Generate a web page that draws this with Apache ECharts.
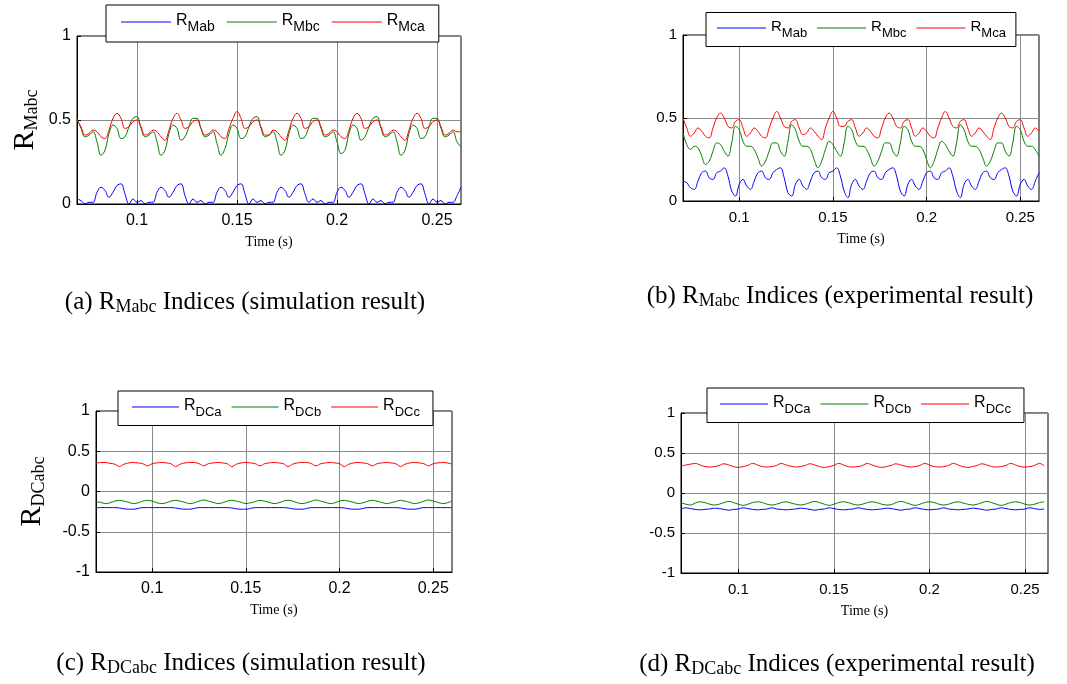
<!DOCTYPE html>
<html lang="en">
<head>
<meta charset="utf-8">
<script src="https://cdn.jsdelivr.net/npm/echarts@6/dist/echarts.min.js"></script>
<title>R indices</title>
<style>
    html, body { margin: 0; background: #fff; }
    #chart { width: 1067px; height: 684px; }
</style>
</head>
<body>
<div id="chart"></div>
<script>
    // sample grid: 0.07 s onward, 2 ms for the R_M panels, 2.5 ms for the R_DC panels
    const tStart = 0.07;
    const dtM = 0.002;
    const dtDC = 0.0025;

    const xTicks = [0.1, 0.15, 0.2, 0.25];

    // (a) simulation, R_M indices
    const redA = [
        0.50,0.46,0.41,0.42,0.44,0.43,0.40,0.39,0.44,0.51,
        0.54,0.51,0.45,0.46,0.49,0.50,0.46,0.41,0.42,0.44,0.43,0.40,0.38,0.44,0.51,
        0.54,0.50,0.45,0.46,0.49,0.50,0.45,0.41,0.42,0.44,0.43,0.40,0.39,0.45,0.51,
        0.55,0.51,0.45,0.46,0.49,0.50,0.46,0.41,0.41,0.44,0.43,0.40,0.38,0.44,0.51,
        0.54,0.51,0.45,0.46,0.49,0.50,0.46,0.41,0.42,0.44,0.43,0.40,0.39,0.44,0.51,
        0.54,0.51,0.45,0.46,0.49,0.50,0.46,0.41,0.42,0.44,0.43,0.40,0.38,0.44,0.51,
        0.54,0.51,0.45,0.46,0.49,0.50,0.46,0.41,0.42,0.44,0.43,0.43
    ];
    const greenA = [
        0.51,0.45,0.40,0.41,0.43,0.37,0.29,0.32,0.42,0.47,
        0.45,0.39,0.40,0.46,0.51,0.52,0.45,0.40,0.41,0.43,0.37,0.29,0.32,0.42,0.47,
        0.45,0.38,0.40,0.46,0.51,0.51,0.45,0.40,0.41,0.43,0.36,0.29,0.33,0.42,0.47,
        0.45,0.39,0.40,0.46,0.51,0.52,0.45,0.40,0.41,0.43,0.37,0.29,0.32,0.42,0.47,
        0.45,0.39,0.40,0.46,0.51,0.51,0.45,0.40,0.41,0.43,0.37,0.30,0.32,0.42,0.47,
        0.45,0.38,0.40,0.46,0.51,0.52,0.45,0.40,0.41,0.43,0.37,0.29,0.32,0.42,0.47,
        0.45,0.39,0.40,0.46,0.51,0.51,0.45,0.40,0.41,0.43,0.37,0.34
    ];
    const blueA = [
        0.03,0.02,0.00,0.01,0.01,0.07,0.10,0.08,0.04,0.07,
        0.11,0.12,0.06,0.00,0.03,0.01,0.02,0.00,0.01,0.01,0.07,0.10,0.08,0.04,0.07,
        0.11,0.12,0.05,0.00,0.03,0.01,0.02,0.00,0.01,0.01,0.07,0.10,0.08,0.04,0.07,
        0.11,0.12,0.06,0.00,0.03,0.01,0.02,0.00,0.01,0.01,0.07,0.10,0.08,0.04,0.07,
        0.11,0.12,0.06,0.01,0.03,0.01,0.02,0.00,0.01,0.01,0.07,0.10,0.08,0.04,0.07,
        0.11,0.12,0.06,0.00,0.03,0.01,0.02,0.00,0.01,0.01,0.07,0.10,0.08,0.04,0.07,
        0.11,0.12,0.06,0.00,0.03,0.01,0.02,0.00,0.01,0.01,0.05,0.10
    ];

    // (b) experiment, R_M indices
    const redB = [
        0.50,0.44,0.39,0.41,0.44,0.42,0.39,0.38,0.44,0.50,
        0.53,0.50,0.45,0.44,0.48,0.49,0.44,0.39,0.41,0.44,0.42,0.39,0.38,0.44,0.50,
        0.54,0.50,0.45,0.44,0.48,0.49,0.44,0.40,0.41,0.44,0.42,0.39,0.37,0.44,0.50,
        0.54,0.50,0.45,0.45,0.48,0.49,0.44,0.39,0.41,0.44,0.42,0.39,0.38,0.44,0.50,
        0.53,0.50,0.45,0.44,0.48,0.49,0.44,0.39,0.41,0.44,0.42,0.39,0.38,0.44,0.50,
        0.54,0.50,0.45,0.44,0.48,0.49,0.44,0.39,0.41,0.44,0.42,0.39,0.37,0.44,0.50,
        0.53,0.50,0.45,0.44,0.48,0.49,0.44,0.39,0.41,0.44,0.42
    ];
    const greenB = [
        0.41,0.34,0.31,0.33,0.32,0.27,0.22,0.24,0.30,0.35,
        0.34,0.30,0.27,0.35,0.45,0.43,0.36,0.33,0.33,0.31,0.26,0.21,0.24,0.30,0.35,
        0.35,0.30,0.27,0.36,0.46,0.43,0.36,0.33,0.33,0.31,0.25,0.20,0.24,0.31,0.36,
        0.34,0.30,0.27,0.35,0.45,0.43,0.36,0.33,0.33,0.31,0.26,0.21,0.24,0.30,0.35,
        0.35,0.30,0.27,0.35,0.45,0.43,0.36,0.33,0.33,0.31,0.25,0.20,0.24,0.31,0.36,
        0.34,0.30,0.27,0.35,0.46,0.43,0.36,0.33,0.33,0.31,0.26,0.21,0.24,0.30,0.35,
        0.35,0.30,0.27,0.35,0.45,0.43,0.36,0.33,0.33,0.31,0.27
    ];
    const blueB = [
        0.12,0.11,0.08,0.07,0.12,0.17,0.18,0.14,0.13,0.17,
        0.18,0.20,0.15,0.06,0.03,0.10,0.13,0.09,0.07,0.12,0.17,0.18,0.14,0.13,0.17,
        0.19,0.20,0.14,0.05,0.03,0.10,0.13,0.09,0.07,0.12,0.17,0.18,0.14,0.13,0.17,
        0.18,0.20,0.15,0.06,0.02,0.10,0.13,0.09,0.07,0.12,0.17,0.18,0.14,0.13,0.17,
        0.19,0.20,0.15,0.06,0.03,0.10,0.13,0.09,0.07,0.12,0.17,0.18,0.14,0.13,0.17,
        0.18,0.20,0.15,0.06,0.02,0.10,0.13,0.09,0.07,0.12,0.17,0.18,0.14,0.13,0.17,
        0.19,0.20,0.15,0.06,0.03,0.10,0.13,0.09,0.07,0.12,0.17
    ];

    // (c) simulation, R_DC indices
    const redC = [
        0.35,0.36,0.36,0.35,0.34,
        0.31,0.34,0.355,0.36,0.355,0.345,
        0.32,0.345,0.355,0.36,0.355,0.345,
        0.31,0.34,0.355,0.36,0.36,0.345,
        0.32,0.345,0.355,0.36,0.355,0.345,
        0.31,0.34,0.355,0.36,0.355,0.345,
        0.32,0.345,0.355,0.36,0.355,0.345,
        0.31,0.34,0.355,0.36,0.36,0.345,
        0.32,0.345,0.355,0.36,0.355,0.345,
        0.31,0.34,0.355,0.36,0.355,0.345,
        0.32,0.345,0.355,0.36,0.355,0.345,
        0.31,0.34,0.355,0.36,0.355,0.345,
        0.32,0.345,0.355,0.36,0.355,0.34
    ];
    const greenC = [
        -0.13,-0.135,-0.15,-0.14,-0.12,
        -0.11,-0.12,-0.135,-0.15,-0.14,-0.12,
        -0.11,-0.12,-0.14,-0.15,-0.14,-0.12,
        -0.11,-0.12,-0.135,-0.15,-0.14,-0.12,
        -0.105,-0.12,-0.135,-0.15,-0.14,-0.12,
        -0.11,-0.12,-0.135,-0.15,-0.14,-0.125,
        -0.11,-0.12,-0.135,-0.15,-0.14,-0.12,
        -0.11,-0.12,-0.14,-0.15,-0.14,-0.12,
        -0.105,-0.12,-0.135,-0.15,-0.14,-0.12,
        -0.11,-0.12,-0.135,-0.15,-0.14,-0.12,
        -0.11,-0.12,-0.135,-0.15,-0.14,-0.125,
        -0.11,-0.12,-0.135,-0.15,-0.14,-0.12,
        -0.105,-0.12,-0.135,-0.15,-0.14,-0.12
    ];
    const blueC = [
        -0.20,-0.20,-0.20,-0.20,-0.20,-0.205,
        -0.215,-0.22,-0.22,-0.21,
        -0.20,-0.20,-0.20,-0.20,-0.20,-0.20,-0.20,-0.205,
        -0.215,-0.22,-0.22,-0.21,
        -0.20,-0.20,-0.20,-0.20,-0.20,-0.20,-0.20,-0.205,
        -0.215,-0.22,-0.22,-0.21,
        -0.20,-0.20,-0.20,-0.20,-0.20,-0.20,-0.20,-0.205,
        -0.215,-0.22,-0.22,-0.21,
        -0.20,-0.20,-0.20,-0.20,-0.20,-0.20,-0.20,-0.205,
        -0.215,-0.22,-0.22,-0.21,
        -0.20,-0.20,-0.20,-0.20,-0.20,-0.20,-0.20,-0.205,
        -0.215,-0.22,-0.22,-0.21,
        -0.20,-0.20,-0.20,-0.20,-0.20,-0.20,-0.20
    ];

    // (d) experiment, R_DC indices
    const redD = [
        0.335,0.35,0.36,
        0.37,0.35,0.33,0.325,0.33,0.345,
        0.365,0.35,0.33,0.32,0.33,0.345,
        0.37,0.35,0.33,0.325,0.33,0.345,
        0.37,0.35,0.335,0.325,0.33,0.345,
        0.365,0.35,0.33,0.32,0.33,0.345,
        0.37,0.35,0.33,0.325,0.33,0.345,
        0.37,0.35,0.33,0.32,0.33,0.345,
        0.365,0.35,0.335,0.325,0.33,0.345,
        0.37,0.35,0.33,0.325,0.33,0.345,
        0.37,0.35,0.33,0.32,0.33,0.345,
        0.365,0.35,0.33,0.325,0.33,0.345,
        0.37,0.35,0.33,0.325,0.33,0.345,
        0.37,0.34
    ];
    const greenD = [
        -0.12,-0.14,-0.15,-0.125,
        -0.11,-0.12,-0.14,-0.15,-0.14,-0.12,
        -0.105,-0.12,-0.14,-0.155,-0.14,-0.12,
        -0.11,-0.12,-0.14,-0.15,-0.14,-0.12,
        -0.11,-0.125,-0.14,-0.15,-0.14,-0.12,
        -0.105,-0.12,-0.14,-0.155,-0.14,-0.12,
        -0.11,-0.12,-0.14,-0.15,-0.14,-0.12,
        -0.11,-0.12,-0.14,-0.15,-0.145,-0.12,
        -0.105,-0.12,-0.14,-0.155,-0.14,-0.12,
        -0.11,-0.12,-0.14,-0.15,-0.14,-0.12,
        -0.11,-0.125,-0.14,-0.15,-0.14,-0.12,
        -0.105,-0.12,-0.14,-0.155,-0.14,-0.12,
        -0.11,-0.12,-0.14,-0.15,-0.14,-0.12,
        -0.11
    ];
    const blueD = [
        -0.20,
        -0.185,-0.195,-0.205,-0.21,-0.205,-0.20,
        -0.19,-0.195,-0.205,-0.215,-0.205,-0.20,
        -0.185,-0.195,-0.205,-0.21,-0.205,-0.20,
        -0.185,-0.20,-0.205,-0.21,-0.205,-0.20,
        -0.19,-0.195,-0.205,-0.215,-0.205,-0.20,
        -0.185,-0.195,-0.205,-0.21,-0.205,-0.20,
        -0.185,-0.195,-0.205,-0.21,-0.205,-0.20,
        -0.19,-0.195,-0.205,-0.215,-0.205,-0.20,
        -0.185,-0.195,-0.205,-0.21,-0.205,-0.20,
        -0.185,-0.20,-0.205,-0.21,-0.205,-0.20,
        -0.19,-0.195,-0.205,-0.215,-0.205,-0.20,
        -0.185,-0.195,-0.205,-0.21,-0.205,-0.20,
        -0.185,-0.195,-0.205,-0.20
    ];

    const SANS = 'Liberation Sans';
    const SERIF = 'Liberation Serif';
    const BLUE = '#0000ff', GREEN = '#008000', RED = '#ff0000';

    function withTime(values, dt) {
        return values.map((v, i) => [tStart + i * dt, v]);
    }

    // panel boxes in pixels
    const panels = [
        {left: 77, top: 36, width: 384, height: 168, xMax: 0.262, yMin: 0, fs: 16},
        {left: 683, top: 35, width: 356, height: 166, xMax: 0.26, yMin: 0, fs: 15},
        {left: 96, top: 411, width: 356, height: 161, xMax: 0.26, yMin: -1, fs: 16},
        {left: 681, top: 413, width: 367, height: 160, xMax: 0.262, yMin: -1, fs: 15}
    ];

    const grids = panels.map(p => ({
        left: p.left, top: p.top, width: p.width, height: p.height,
        show: true, borderColor: '#000', borderWidth: 1, backgroundColor: '#fff'
    }));

    const xAxes = panels.map((p, i) => ({
        type: 'value', gridIndex: i, min: tStart, max: p.xMax,
        axisLine: {show: true, onZero: false, lineStyle: {color: '#000'}},
        axisTick: {show: true, inside: true, length: 4, customValues: xTicks, lineStyle: {color: '#000'}},
        axisLabel: {
            customValues: xTicks, color: '#000', fontFamily: SANS, fontSize: p.fs, margin: 9,
            formatter: v => String(Math.round(v * 100) / 100)
        },
        splitLine: {show: true, lineStyle: {color: '#8a8a8a', width: 1}},
        name: 'Time (s)', nameLocation: 'middle', nameGap: 31,
        nameTextStyle: {fontFamily: SERIF, fontSize: 14, color: '#000'}
    }));

    const yNames = ['{r|R}{s|Mabc}', '', '{r|R}{s|DCabc}', ''];
    const yGaps = [36, 0, 48, 0];
    const yAxes = panels.map((p, i) => ({
        type: 'value', gridIndex: i, min: p.yMin, max: 1, interval: 0.5,
        axisLine: {show: true, onZero: false, lineStyle: {color: '#000'}},
        axisTick: {show: true, inside: true, length: 4, lineStyle: {color: '#000'}},
        axisLabel: {color: '#000', fontFamily: SANS, fontSize: p.fs, margin: 6, formatter: v => String(v)},
        splitLine: {show: true, lineStyle: {color: '#8a8a8a', width: 1}},
        name: yNames[i], nameLocation: 'middle', nameRotate: 90, nameGap: yGaps[i],
        nameTextStyle: {
            color: '#000',
            rich: {
                r: {fontFamily: SERIF, fontSize: 30, color: '#000'},
                s: {fontFamily: SERIF, fontSize: 18, color: '#000', padding: [14, 0, 0, 0]}
            }
        }
    }));

    function line(name, idx, values, dt, color) {
        return {
            name: name, type: 'line', xAxisIndex: idx, yAxisIndex: idx,
            data: withTime(values, dt), symbol: 'none', smooth: 0.4,
            lineStyle: {color: color, width: 1}, itemStyle: {color: color}
        };
    }

    const series = [
        line('a:Mab', 0, blueA, dtM, BLUE), line('a:Mbc', 0, greenA, dtM, GREEN), line('a:Mca', 0, redA, dtM, RED),
        line('b:Mab', 1, blueB, dtM, BLUE), line('b:Mbc', 1, greenB, dtM, GREEN), line('b:Mca', 1, redB, dtM, RED),
        line('c:DCa', 2, blueC, dtDC, BLUE), line('c:DCb', 2, greenC, dtDC, GREEN), line('c:DCc', 2, redC, dtDC, RED),
        line('d:DCa', 3, blueD, dtDC, BLUE), line('d:DCb', 3, greenD, dtDC, GREEN), line('d:DCc', 3, redD, dtDC, RED)
    ];

    const legendBoxes = [
        {id: 'a', left: 106, top: 5, pad: [8, 14, 8, 15], gap: 12, w: 50, r: 16, s: 14},
        {id: 'b', left: 706, top: 12.5, pad: [7, 10, 7, 11], gap: 10, w: 49, r: 15, s: 13},
        {id: 'c', left: 118, top: 391, pad: [7, 13, 7, 14], gap: 10, w: 47, r: 16, s: 13},
        {id: 'd', left: 707, top: 388, pad: [7, 13, 7, 13], gap: 10, w: 48, r: 16, s: 13}
    ];
    const legends = legendBoxes.map(L => ({
        left: L.left, top: L.top, orient: 'horizontal',
        data: series.filter(s => s.name[0] === L.id).map(s => s.name),
        icon: 'rect',
        backgroundColor: '#fff', borderColor: '#000', borderWidth: 1, borderRadius: 0,
        padding: L.pad, itemGap: L.gap, itemWidth: L.w, itemHeight: 1.2,
        selectedMode: false,
        formatter: name => '{r|R}{s|' + name.split(':')[1] + '}',
        textStyle: {
            color: '#000',
            rich: {
                r: {fontFamily: SANS, fontSize: L.r, color: '#000', padding: [0, 0, 2, 0]},
                s: {fontFamily: SANS, fontSize: L.s, color: '#000', padding: [10, 0, 0, 0]}
            }
        }
    }));

    const captions = [
        {text: '(a) {r|R}{s|Mabc} Indices (simulation result)', left: 245, top: 288},
        {text: '(b) {r|R}{s|Mabc} Indices (experimental result)', left: 840, top: 282},
        {text: '(c) {r|R}{s|DCabc} Indices (simulation result)', left: 241, top: 649},
        {text: '(d) {r|R}{s|DCabc} Indices (experimental result)', left: 837, top: 650}
    ];
    const titles = captions.map(c => ({
        text: c.text, left: c.left, top: c.top, textAlign: 'center', padding: 0,
        textStyle: {
            fontFamily: SERIF, fontSize: 25, fontWeight: 'normal', color: '#000',
            rich: {
                r: {fontFamily: SERIF, fontSize: 25, color: '#000'},
                s: {fontFamily: SERIF, fontSize: 18, color: '#000', padding: [10, 0, 0, 0]}
            }
        }
    }));

    const myChart = echarts.init(document.getElementById('chart'), null, {renderer: 'canvas'});
    myChart.setOption({
        animation: false,
        backgroundColor: '#fff',
        title: titles,
        legend: legends,
        grid: grids,
        xAxis: xAxes,
        yAxis: yAxes,
        series: series
    });
</script>
</body>
</html>
